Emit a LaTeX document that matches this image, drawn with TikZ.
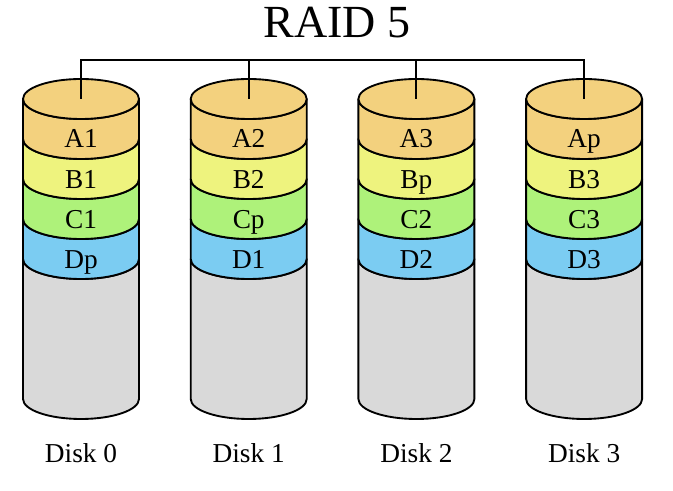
\documentclass[tikz,border=0pt]{standalone}
\usepackage{fontspec}
\setmainfont{Liberation Serif}
\usepackage{tikz}
\definecolor{stripA}{HTML}{F3D17E}
\definecolor{stripB}{HTML}{EEF37E}
\definecolor{stripC}{HTML}{AEF27A}
\definecolor{stripD}{HTML}{7BCCF2}
\definecolor{emptyspace}{HTML}{D9D9D9}

\begin{document}
\begin{tikzpicture}[x=0.75pt,y=0.75pt,line width=1.4pt,
    strip/.style={draw,line join=round},
    lbl/.style={anchor=base,font=\fontsize{20.5}{24}\selectfont}]
    \useasboundingbox (0,0) rectangle (673,491);
    \node[anchor=base,font=\fontsize{34.5}{40}\selectfont] (title) at (337,453) {RAID 5};
    \foreach \i/\cx/\a/\b/\c/\d in {0/81/A1/B1/C1/Dp, 1/248.7/A2/B2/Cp/D1,
                                    2/416.4/A3/Bp/C2/D2, 3/584.1/Ap/B3/C3/D3}{
      % one disk, bottom strip first
      \foreach \yt/\yb/\col in {232/92/emptyspace, 272/232/stripD, 312/272/stripC,
                                352/312/stripB, 392/352/stripA}{
        \path[strip,fill=\col] (\cx-58,\yt) -- (\cx-58,\yb)
          arc[start angle=180,end angle=360,x radius=58,y radius=20]
          -- (\cx+58,\yt)
          arc[start angle=360,end angle=180,x radius=58,y radius=20] -- cycle;
      }
      \path[strip,fill=stripA] (\cx,392) ellipse[x radius=58,y radius=20];
      \coordinate (top\i) at (\cx,392);
      \coordinate (bus\i) at (\cx,431);
      \node[lbl] (a\i) at (\cx,343) {\a};
      \node[lbl] (b\i) at (\cx,302) {\b};
      \node[lbl] (c\i) at (\cx,262) {\c};
      \node[lbl] (d\i) at (\cx,222) {\d};
      \node[lbl] (disk\i) at (\cx,28) {Disk \i};
    }
    \draw (top0) -- (bus0) -- (bus3) -- (top3);
    \draw (top1) -- (bus1);
    \draw (top2) -- (bus2);
\end{tikzpicture}
\end{document}
